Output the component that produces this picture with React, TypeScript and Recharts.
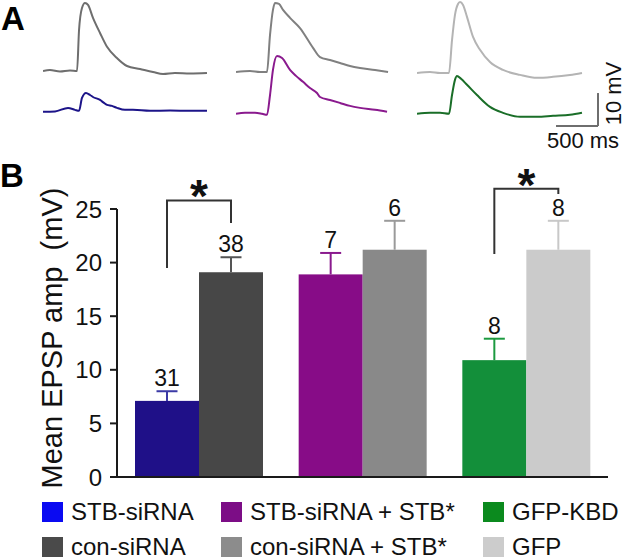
import React from 'react';
import { LineChart, Line, XAxis, YAxis, ReferenceLine, BarChart, Bar } from 'recharts';

const FONT = '"Liberation Sans", Arial, Helvetica, sans-serif';

// ---------- Panel A: representative EPSP traces [time (ms), mV] ----------
const traceStbTop: number[][] = [
  [0, 0], [83, 0.3], [202, -0.15], [321, 0.15], [405, 0], [429, 12.4], [464, 19.1], [500, 20.6],
  [536, 20.0], [595, 16.1], [679, 11.5], [762, 7.3], [881, 3.9], [1000, 1.5], [1155, 0.6],
  [1310, -0.3], [1429, -0.9], [1571, -0.6], [1750, -0.75], [1952, -0.6],
];
const traceStbBottom: number[][] = [
  [0, -12.4], [143, -12.3], [298, -11.2], [381, -11.8], [429, -12.1], [464, -8.2], [512, -6.7],
  [560, -7.3], [595, -7.9], [679, -8.8], [726, -9.7], [762, -10.3], [821, -10.6], [881, -11.2],
  [976, -11.8], [1071, -11.8], [1274, -12.1], [1512, -12.0], [1750, -12.1], [1952, -12.1],
];
const traceRescueTop: number[][] = [
  [0, -0.3], [167, 0], [286, -0.3], [369, -0.3], [405, 10.9], [440, 18.5], [464, 20.6], [512, 20.3],
  [560, 18.5], [643, 16.1], [762, 13.0], [917, 7.0], [1000, 4.2], [1119, 3.3], [1238, 2.4],
  [1357, 1.5], [1476, 0.9], [1655, 0.3], [1810, -0.3],
];
const traceRescueBottom: number[][] = [
  [0, -13.0], [107, -12.7], [226, -12.7], [310, -13.0], [369, -13.3], [405, -7.3], [440, 0.3],
  [488, 4.5], [548, 3.9], [643, 0.3], [714, -1.5], [798, -3.3], [881, -5.2], [964, -6.7],
  [1000, -7.9], [1119, -8.8], [1238, -9.7], [1357, -10.6], [1476, -11.2], [1655, -11.8], [1798, -12.4],
];
const traceGfpTop: number[][] = [
  [0, -0.6], [155, -0.3], [274, -0.6], [381, -0.6], [417, 9.4], [452, 17.0], [488, 20.3], [512, 20.9],
  [548, 20.0], [595, 16.4], [667, 10.3], [750, 6.4], [869, 2.7], [1024, 0.3], [1226, -1.2],
  [1429, -2.1], [1619, -1.8], [1821, -1.2], [1964, -0.6],
];
const traceGfpBottom: number[][] = [
  [0, -13.0], [155, -12.7], [274, -12.7], [381, -13.0], [417, -7.3], [452, -2.7], [476, -1.5],
  [524, -2.4], [595, -4.2], [714, -7.3], [869, -10.9], [1024, -12.7], [1226, -13.9], [1429, -13.9],
  [1619, -13.6], [1821, -13.3], [1964, -12.7],
];
const traceColumnsLeft = [43, 236, 417];
const traceColors = [
  ['#6e6e6e', '#1c1489'],
  ['#808080', '#8a1a8e'],
  ['#b4b4b4', '#1a6e28'],
];
// scale bar: 500 ms, 10 mV
const scaleBarX = [1655, 2155];
const scaleBarY = [-16.7, -6.7];

// ---------- Panel B ----------
const groups = ['STB-siRNA', 'STB-siRNA + STB*', 'GFP-KBD'];
const expMeans = [7.1, 18.9, 10.9];
const expErr = [0.9, 2.0, 2.0];
const expN = ['31', '7', '8'];
const ctrlMeans = [19.1, 21.2, 21.2];
const ctrlErr = [1.4, 2.7, 2.7];
const ctrlN = ['38', '6', '8'];
const expColors = ['#1f1088', '#870c87', '#138f3a'];
const ctrlColors = ['#474747', '#898989', '#cbcbcb'];
const expErrColors = ['#3b3aa6', '#8a1a8e', '#1c9a40'];
const ctrlErrColors = ['#555555', '#9a9a9a', '#c8c8c8'];
const yTicks = [0, 5, 10, 15, 20, 25];
// significance brackets (data levels): group index, left leg bottom, top, right leg bottom
const bracketGroup = [0, 2];
const bracketLeft = [19.5, 20.8];
const bracketTop = [25.8, 26.9];
const bracketRight = [23.7, 26.4];

const legendLabels = [
  ['STB-siRNA', 'con-siRNA'],
  ['STB-siRNA + STB*', 'con-siRNA + STB*'],
  ['GFP-KBD', 'GFP'],
];
const legendColors = [
  ['#0a0af2', '#4a4a4a'],
  ['#7c0d86', '#8c8c8c'],
  ['#0b8a1e', '#cccccc'],
];

const toPts = (arr: number[][]) => arr.map(([t, v]) => ({ t, v }));
const traces = [
  [traceStbTop, traceStbBottom],
  [traceRescueTop, traceRescueBottom],
  [traceGfpTop, traceGfpBottom],
];

const barData = groups.map((g, i) => ({ group: g, exp: expMeans[i], ctrl: ctrlMeans[i] }));

function TraceChart({ col }: { col: number }) {
  const showScale = col === 2;
  return (
    <div style={{ position: 'absolute', left: traceColumnsLeft[col], top: 0 }}>
      <LineChart width={220} height={160} margin={{ top: 0, right: 0, bottom: 0, left: 0 }}>
        <XAxis type="number" dataKey="t" domain={[0, 2619]} hide allowDataOverflow />
        <YAxis type="number" domain={[-27, 21.5]} hide allowDataOverflow />
        {traces[col].map((d, i) => (
          <Line
            key={i}
            data={toPts(d)}
            dataKey="v"
            type="monotone"
            stroke={traceColors[col][i]}
            strokeWidth={2}
            dot={false}
            activeDot={false}
            isAnimationActive={false}
          />
        ))}
        {showScale && (
          <ReferenceLine
            segment={[{ x: scaleBarX[0], y: scaleBarY[0] }, { x: scaleBarX[1], y: scaleBarY[0] }]}
            stroke="#6e6e6e"
            strokeWidth={2}
            ifOverflow="visible"
            label={(p: any) => {
              const vb = p.viewBox || { x: 0, y: 0, width: 0 };
              return (
                <text x={vb.x + vb.width / 2 + 6} y={vb.y + 22} textAnchor="middle" fontSize={22} fontFamily={FONT} fill="#111">
                  500 ms
                </text>
              );
            }}
          />
        )}
        {showScale && (
          <ReferenceLine
            segment={[{ x: scaleBarX[1], y: scaleBarY[0] }, { x: scaleBarX[1], y: scaleBarY[1] }]}
            stroke="#6e6e6e"
            strokeWidth={2}
            ifOverflow="visible"
            label={(p: any) => {
              const vb = p.viewBox || { x: 0, y: 0, height: 0 };
              const tx = vb.x + 23;
              const ty = vb.y + vb.height / 2 - 16;
              return (
                <text x={tx} y={ty} transform={`rotate(-90, ${tx}, ${ty})`} textAnchor="middle" fontSize={22} fontFamily={FONT} fill="#111">
                  10 mV
                </text>
              );
            }}
          />
        )}
      </LineChart>
    </div>
  );
}

const makeShape = (kind: 'exp' | 'ctrl') => (props: any) => {
  const { x, y, width, height, index } = props;
  const means = kind === 'exp' ? expMeans : ctrlMeans;
  const errs = kind === 'exp' ? expErr : ctrlErr;
  const ns = kind === 'exp' ? expN : ctrlN;
  const fills = kind === 'exp' ? expColors : ctrlColors;
  const errColors = kind === 'exp' ? expErrColors : ctrlErrColors;
  const v = means[index];
  const base = y + height;
  const ppu = height / v;
  const errY = base - (v + errs[index]) * ppu;
  const cx = x + width / 2;
  const bIdx = kind === 'ctrl' ? bracketGroup.indexOf(index) : -1;
  let bracket = null;
  if (bIdx >= 0) {
    const lx = cx - width;
    const yl = base - bracketLeft[bIdx] * ppu;
    const yt = base - bracketTop[bIdx] * ppu;
    const yr = base - bracketRight[bIdx] * ppu;
    bracket = (
      <g>
        <path d={`M${lx},${yl} V${yt} H${cx} V${yr}`} fill="none" stroke="#333" strokeWidth={2} />
        <text x={(lx + cx) / 2} y={yt + 12} textAnchor="middle" fontSize={46} fontWeight="bold" fontFamily={FONT} fill="#111">
          *
        </text>
      </g>
    );
  }
  return (
    <g>
      <rect x={x} y={y} width={width} height={height} fill={fills[index]} />
      <line x1={cx} y1={y} x2={cx} y2={errY} stroke={errColors[index]} strokeWidth={2} />
      <line x1={cx - 10.5} y1={errY} x2={cx + 10.5} y2={errY} stroke={errColors[index]} strokeWidth={2} />
      <text x={cx} y={errY - 5} textAnchor="middle" fontSize={23} fontFamily={FONT} fill="#111">
        {ns[index]}
      </text>
      {bracket}
    </g>
  );
};

const yLabel = (p: any) => {
  const vb = p.viewBox || { x: 0, y: 0, height: 0 };
  const tx = 62;
  const ty = vb.y + vb.height / 2 - 5;
  return (
    <text x={tx} y={ty} transform={`rotate(-90, ${tx}, ${ty})`} textAnchor="middle" fontSize={29} fontFamily={FONT} fill="#111" style={{ whiteSpace: 'pre' }}>
      {'Mean EPSP amp  (mV)'}
    </text>
  );
};

export default function App() {
  return (
    <div style={{ position: 'absolute', left: 0, top: 0, width: 640, height: 559, background: '#fff', overflow: 'hidden', fontFamily: FONT }}>
      {[0, 1, 2].map((c) => (
        <TraceChart key={c} col={c} />
      ))}
      <div style={{ position: 'absolute', left: 0, top: 160 }}>
        <BarChart
          width={640}
          height={330}
          data={barData}
          margin={{ top: 49, right: 32, bottom: 11, left: 0 }}
          barGap={0}
          barSize={64}
        >
          <XAxis dataKey="group" tick={false} tickLine={false} axisLine={{ stroke: '#1a1a1a', strokeWidth: 2 }} height={2} />
          <YAxis
            width={117}
            domain={[0, 25]}
            ticks={yTicks}
            interval={0}
            tickSize={7}
            tickMargin={8}
            axisLine={{ stroke: '#1a1a1a', strokeWidth: 2 }}
            tickLine={{ stroke: '#1a1a1a', strokeWidth: 2 }}
            tick={{ fontSize: 24, fill: '#111', fontFamily: FONT }}
            label={{ content: yLabel } as any}
          />
          <Bar dataKey="exp" shape={makeShape('exp')} isAnimationActive={false} />
          <Bar dataKey="ctrl" shape={makeShape('ctrl')} isAnimationActive={false} />
        </BarChart>
      </div>
      <svg width={640} height={559} style={{ position: 'absolute', left: 0, top: 0, pointerEvents: 'none' }}>
        <text x={1} y={30} fontSize={33} fontWeight="bold" fontFamily={FONT} fill="#000">A</text>
        <text x={0} y={187} fontSize={33} fontWeight="bold" fontFamily={FONT} fill="#000">B</text>
        {legendLabels.map((col, ci) =>
          col.map((lab, ri) => {
            const sx = [42, 221, 483][ci];
            const sy = [502, 537][ri];
            return (
              <g key={`${ci}-${ri}`}>
                <rect x={sx} y={sy} width={21} height={20} fill={legendColors[ci][ri]} />
                <text x={sx + 29} y={sy + 18} fontSize={24} fontFamily={FONT} fill="#111">
                  {lab}
                </text>
              </g>
            );
          })
        )}
      </svg>
    </div>
  );
}
